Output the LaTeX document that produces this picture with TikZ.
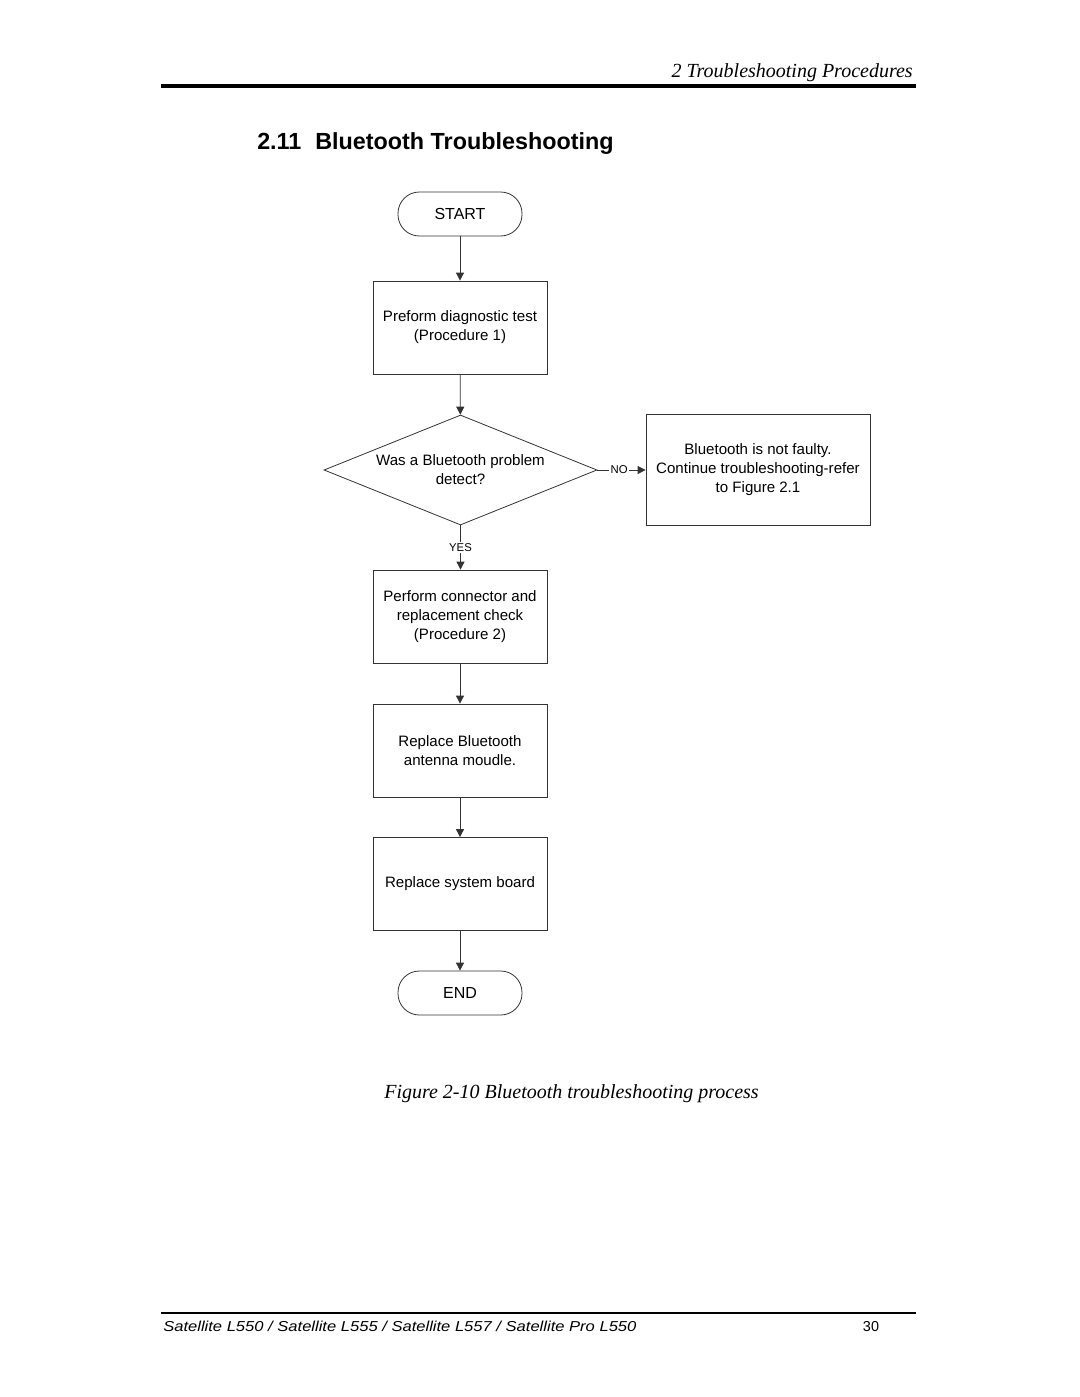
\documentclass[tikz,border=0pt]{standalone}
\usepackage{fontspec}
\usepackage{graphicx}
\setmainfont{Liberation Serif}
\setsansfont{Liberation Sans}
\usetikzlibrary{shapes.geometric,arrows.meta}
\tikzset{
  fc/.style={draw=black!80, line width=0.6pt, font=\sffamily\fontsize{11.3}{14.25}\selectfont, align=center, inner sep=0pt},
  procbox/.style={fc, rectangle, minimum width=130.5pt, minimum height=69.75pt},
  infobox/.style={fc, rectangle, minimum width=168pt, minimum height=83.25pt},
  term/.style={fc, rectangle, rounded corners=16pt, minimum width=93pt, minimum height=33pt, font=\sffamily\fontsize{12}{14}\selectfont},
  decision/.style={fc, diamond, shape aspect=2.5, minimum width=204.75pt, minimum height=82.5pt},
  conn/.style={draw=black!80, line width=0.6pt, -{Triangle[length=6pt,width=6pt]}},
  lbl/.style={font=\sffamily\fontsize{8.5}{9}\selectfont, fill=white, inner sep=1.2pt}
}
\begin{document}
\begin{tikzpicture}[x=0.75pt,y=-0.75pt]
\useasboundingbox (0,0) rectangle (1080,1397);
% header
\node[anchor=base east, inner sep=0pt, font=\fontsize{15}{18}\selectfont\itshape] (hdr) at (913,77) {2 Troubleshooting Procedures};
\draw[line width=2.6pt] (161,86) -- (916,86);
\node[anchor=base west, inner sep=0pt, font=\sffamily\bfseries\fontsize{17.5}{20}\selectfont] (title) at (257,149) {2.11\hspace{0.6em}Bluetooth Troubleshooting};
% flowchart
\node[term] (start) at (460,214) {START};
\node[procbox] (p1) at (460,327.5) {Preform diagnostic test\\(Procedure 1)};
\node[decision] (d1) at (460.5,470) {Was a Bluetooth problem\\detect?};
\node[infobox] (nf) at (758,469.5) {Bluetooth is not faulty.\\Continue troubleshooting-refer\\to Figure 2.1};
\node[procbox] (p2) at (460,616.5) {Perform connector and\\replacement check\\(Procedure 2)};
\node[procbox] (p3) at (460,750.5) {Replace Bluetooth\\antenna moudle.};
\node[procbox] (p4) at (460,884) {Replace system board};
\node[term] (end) at (460,993) {END};
\draw[conn] (start) -- (p1);
\draw[conn] (p1) -- (d1);
\draw[conn] (d1.east) -- node[lbl, pos=0.45] {NO} (nf.west |- d1.east);
\draw[conn] (d1.south) -- node[lbl, pos=0.5] {YES} (p2.north -| d1.south);
\draw[conn] (p2) -- (p3);
\draw[conn] (p3) -- (p4);
\draw[conn] (p4) -- (end);
% caption
\node[anchor=base, inner sep=0pt, font=\fontsize{15}{18}\selectfont\itshape] (cap) at (571.5,1098) {Figure 2-10 Bluetooth troubleshooting process};
% footer
\draw[line width=1.8pt] (161,1313) -- (916,1313);
\node[anchor=base west, inner sep=0pt, font=\sffamily\itshape\fontsize{10.8}{12}\selectfont] (foot) at (163,1331) {\scalebox{1.15}[1]{Satellite L550 / Satellite L555 / Satellite L557 / Satellite Pro L550}};
\node[anchor=base, inner sep=0pt, font=\sffamily\fontsize{10.8}{12}\selectfont] (pg) at (871,1331) {30};
\end{tikzpicture}
\end{document}
